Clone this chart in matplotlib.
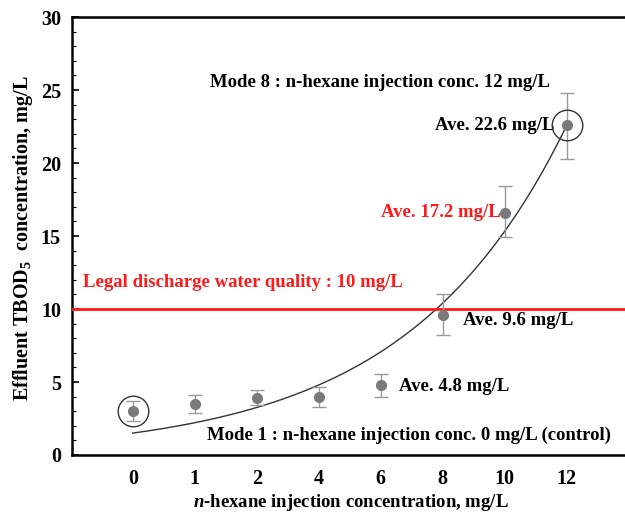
import numpy as np
import matplotlib
matplotlib.use("Agg")
import matplotlib.pyplot as plt

plt.rcParams['font.family'] = ['Liberation Serif', 'DejaVu Serif']
plt.rcParams['font.weight'] = 'bold'
plt.rcParams['axes.labelweight'] = 'bold'
plt.rcParams['mathtext.fontset'] = 'custom'
plt.rcParams['mathtext.rm'] = 'Liberation Serif:bold'
plt.rcParams['mathtext.it'] = 'Liberation Serif:italic:bold'
plt.rcParams['mathtext.bf'] = 'Liberation Serif:bold'

# data
conc_labels = ['0', '1', '2', '4', '6', '8', '10', '12']
tbod_mean = [3.0, 3.5, 3.9, 4.0, 4.8, 9.6, 16.6, 22.6]
err_low = [0.7, 0.65, 0.45, 0.7, 0.85, 1.4, 1.7, 2.3]
err_high = [0.7, 0.6, 0.55, 0.65, 0.75, 1.4, 1.8, 2.2]
legal_limit = 10
trend_start, trend_end = 1.5, 22.6   # exponential trend end values

idx = np.arange(len(conc_labels))

fig = plt.figure(figsize=(6.25, 5.14), dpi=100)
ax = fig.add_axes([0.1152, 0.1148, 0.885, 0.852])

# exponential trend line
tx = np.linspace(0, idx[-1], 200)
ty = np.geomspace(trend_start, trend_end, 200)
ax.plot(tx, ty, color='#333333', lw=1.0, zorder=2)

ax.axhline(legal_limit, color='#ff1a1a', lw=2.0, zorder=3)

ax.errorbar(idx, tbod_mean, yerr=[err_low, err_high], fmt='o', ms=7,
            color='#7a7a7a', ecolor='#9a9a9a', elinewidth=1.0, capsize=5,
            capthick=1.0, zorder=4)

# circles around control and max points
for i in (0, len(idx) - 1):
    ax.plot(idx[i], tbod_mean[i], 'o', ms=22, mfc='none', mec='#333333',
            mew=1.0, zorder=5)

fs = 13.5
ax.text(3.98, 25.5, 'Mode 8 : n-hexane injection conc. 12 mg/L', fontsize=fs,
        ha='center', va='center')
ax.text(6.8, 22.6, 'Ave. 22.6 mg/L', fontsize=fs, ha='right', va='center')
ax.text(5.93, 16.6, 'Ave. 17.2 mg/L', fontsize=fs, ha='right', va='center',
        color='#ff1a1a')
ax.text(-0.8, 11.8, 'Legal discharge water quality : 10 mg/L', fontsize=fs,
        ha='left', va='center', color='#ff1a1a')
ax.text(5.33, 9.2, 'Ave. 9.6 mg/L', fontsize=fs, ha='left', va='center')
ax.text(4.3, 4.7, 'Ave. 4.8 mg/L', fontsize=fs, ha='left', va='center')
ax.text(1.2, 1.35, 'Mode 1 : n-hexane injection conc. 0 mg/L (control)',
        fontsize=fs, ha='left', va='center')

ax.set_xlim(-0.98, 7.94)
ax.set_ylim(0, 30)
ax.set_xticks(idx)
ax.set_xticklabels(conc_labels)
ax.set_xticks(idx[1::2], minor=True)
ax.set_yticks(range(0, 31, 5))
ax.set_yticks(range(0, 31), minor=True)
ax.tick_params(direction='in', labelsize=14.5, length=5, width=1.2, pad=8)
ax.tick_params(which='minor', direction='in', length=3, width=0.8)
ax.tick_params(axis='x', which='major', length=0, pad=10)
ax.tick_params(axis='x', which='minor', length=5, width=1.0)

for s in ('left', 'top', 'bottom'):
    ax.spines[s].set_linewidth(1.8)
ax.spines['right'].set_visible(False)

ax.set_xlabel(r'$\it{n}$-hexane injection concentration, mg/L', fontsize=13.5)
ax.xaxis.set_label_coords(0.505, -0.108)
ax.xaxis.label.set_va('center')
ax.set_ylabel(r'Effluent TBOD$_5$  concentration, mg/L', fontsize=14.5)
ax.yaxis.set_label_coords(-0.088, 0.495)
ax.yaxis.label.set_va('center')

fig.savefig('out.png', dpi=100)
